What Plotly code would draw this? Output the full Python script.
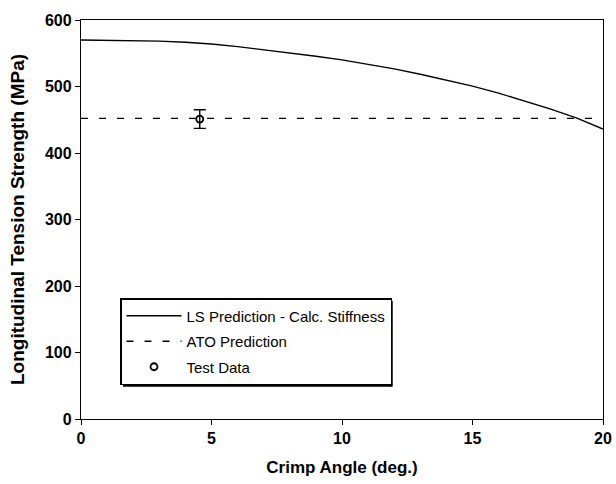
import plotly.graph_objects as go

# data
crimp_angle = [0, 1, 2, 3, 4, 5, 6, 7, 8, 9, 10, 11, 12, 13, 14, 15, 16, 17, 18, 19, 20]
ls_strength = [570, 569.8, 569.3, 568.3, 566.5, 564, 560, 555.5, 551, 545.5, 540,
               533.5, 526.5, 518.5, 510, 500.5, 490, 478.5, 466, 452.5, 436]
ato_x = [0, 20]
ato_strength = [452, 452]
test_x = [4.55]
test_y = [451]
test_err = [14]
x_ticks = [0, 5, 10, 15, 20]
y_ticks = [0, 100, 200, 300, 400, 500, 600]

W, H = 616, 484
ML, MR, MT, MB = 81, 13, 20, 65
PW, PH = W - ML - MR, H - MT - MB


def px_x(p):
    return (p - ML) / PW


def px_y(p):
    return (H - MB - p) / PH


fig = go.Figure()
fig.add_trace(go.Scatter(x=crimp_angle, y=ls_strength, mode="lines",
                         line=dict(color="black", width=1.4),
                         name="LS Prediction - Calc. Stiffness", legendgroup="a"))
fig.add_trace(go.Scatter(x=ato_x, y=ato_strength, mode="lines",
                         line=dict(color="black", width=1.3, dash="7px,11px"),
                         name="ATO Prediction", legendgroup="b"))
fig.add_trace(go.Scatter(x=test_x, y=test_y, mode="markers",
                         marker=dict(symbol="circle-open", size=7, color="black",
                                     line=dict(width=1.8, color="black")),
                         error_y=dict(type="data", array=test_err, color="black",
                                      thickness=1.4, width=6),
                         name="Test Data", legendgroup="c"))

font_family = "Liberation Sans, Arial, sans-serif"
tick_font = dict(size=16, family=font_family)
fig.update_layout(
    width=W, height=H,
    margin=dict(l=ML, r=MR, t=MT, b=MB),
    paper_bgcolor="white", plot_bgcolor="white",
    font=dict(family=font_family, color="black", size=12),
    showlegend=True,
    legend=dict(x=px_x(120), y=px_y(298), xanchor="left", yanchor="top",
                bordercolor="black", borderwidth=1.5, bgcolor="white",
                font=dict(size=15, family=font_family),
                itemwidth=55, tracegroupgap=3),
    xaxis=dict(range=[0, 20], tickvals=x_ticks, ticktext=["<b>%d</b>" % v for v in x_ticks],
               showgrid=False,
               zeroline=False, showline=True, linecolor="black", linewidth=1.3,
               mirror=True, ticks="outside", ticklen=5, tickcolor="black",
               tickfont=tick_font, automargin=False,
               title=dict(text="<b>Crimp Angle (deg.)</b>", font=dict(size=17), standoff=14)),
    yaxis=dict(range=[0, 600], tickvals=y_ticks, ticktext=["<b>%d</b>" % v for v in y_ticks],
               showgrid=False,
               zeroline=False, showline=True, linecolor="black", linewidth=1.3,
               mirror=True, ticks="outside", ticklen=5, tickcolor="black",
               tickfont=tick_font,
               title=dict(text="<b>Longitudinal Tension Strength (MPa)</b>", font=dict(size=19), standoff=15)),
    shapes=[
        dict(type="line", xref="paper", yref="paper",
             x0=px_x(123), x1=px_x(392), y0=px_y(385.5), y1=px_y(385.5),
             line=dict(color="black", width=2.5)),
        dict(type="line", xref="paper", yref="paper",
             x0=px_x(391.5), x1=px_x(391.5), y0=px_y(301), y1=px_y(386.5),
             line=dict(color="black", width=2.5)),
    ],
)
fig.write_html("out.html")
